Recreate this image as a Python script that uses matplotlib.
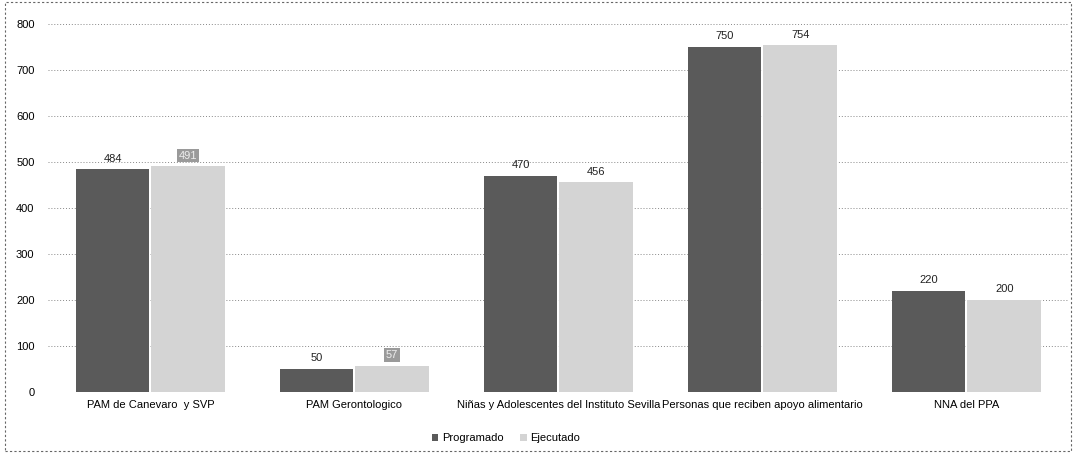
import numpy as np
import matplotlib
matplotlib.use("Agg")
import matplotlib.pyplot as plt
from matplotlib.patches import Rectangle

categories = ["PAM de Canevaro  y SVP", "PAM Gerontologico",
              "Niñas y Adolescentes del Instituto Sevilla",
              "Personas que reciben apoyo alimentario", "NNA del PPA"]
programado = [484, 50, 470, 750, 220]
ejecutado = [491, 57, 456, 754, 200]
boxed = [True, True, False, False, False]  # Ejecutado labels drawn on grey box

plt.rcParams['font.family'] = ['Liberation Sans', 'DejaVu Sans']

fig = plt.figure(figsize=(10.76, 4.53), dpi=100)
ax = fig.add_axes([0.045, 0.135, 0.948, 0.812])

x = np.arange(len(categories))
w = 0.36
b1 = ax.bar(x - w / 2 - 0.005, programado, w, color="#5a5a5a", label="Programado", zorder=3)
b2 = ax.bar(x + w / 2 + 0.005, ejecutado, w, color="#d4d4d4", label="Ejecutado", zorder=3)

for r, v in zip(b1, programado):
    ax.text(r.get_x() + r.get_width() / 2, v + 12, str(v), ha="center", va="bottom",
            fontsize=8, color="#222222")
for r, v, bx in zip(b2, ejecutado, boxed):
    kw = {}
    if bx:
        kw["bbox"] = dict(boxstyle="square,pad=0.15", fc="#9a9a9a", ec="none")
    ax.text(r.get_x() + r.get_width() / 2, v + 12, str(v), ha="center", va="bottom",
            fontsize=8, color="#eeeeee" if bx else "#222222", **kw)

ax.set_xlim(-0.5, len(categories) - 0.5)
ax.set_ylim(0, 800)
ax.set_yticks(range(0, 801, 100))
ax.set_xticks(x)
ax.set_xticklabels(categories, fontsize=8)
ax.tick_params(axis="y", labelsize=8, length=0, pad=10)
ax.tick_params(axis="x", length=0, pad=6)
ax.grid(axis="y", linestyle=(0, (1, 2)), color="#888888", linewidth=0.7, zorder=0)
for s in ax.spines.values():
    s.set_visible(False)

leg = fig.legend(loc="lower center", bbox_to_anchor=(0.47, 0.0), ncol=2, frameon=False,
                 fontsize=8, handlelength=0.6, handleheight=0.6, columnspacing=1.5,
                 handletextpad=0.3)

fig.patches.append(Rectangle((0.005, 0.005), 0.99, 0.99, transform=fig.transFigure,
                             fill=False, ec="#666666", lw=0.8, ls=(0, (2, 2))))

fig.savefig("out.png", dpi=100)
